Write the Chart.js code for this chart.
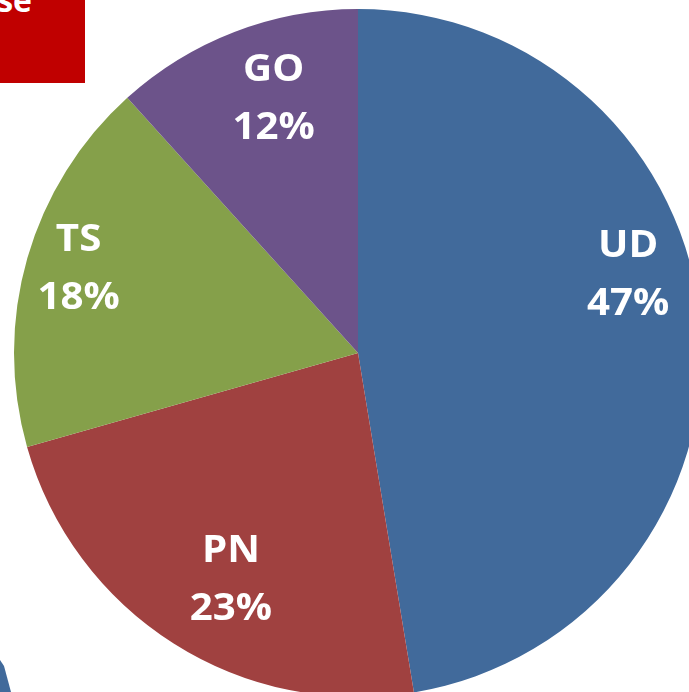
<!DOCTYPE html>
<html>
<head>
<meta charset="utf-8">
<script src="https://cdn.jsdelivr.net/npm/chart.js@4/dist/chart.umd.min.js"></script>
<style>
  html, body { margin: 0; padding: 0; width: 689px; height: 692px; overflow: hidden; background: #ffffff; }
  #wrap { position: absolute; left: 14px; top: 9px; width: 688px; height: 688px; }
  #redbox { position: absolute; left: 0; top: 0; width: 85px; height: 83px; background: #C00000; overflow: hidden; }
  #redbox span { position: absolute; right: 53px; top: -16px; font: bold 32px "Open Sans", "Liberation Sans", sans-serif; color: #ffffff; line-height: 1; }
  #sliver { position: absolute; left: 0; top: 660px; width: 12px; height: 32px; background: #416A9B; clip-path: polygon(0 0, 4px 6px, 11px 32px, 0 32px); }
</style>
</head>
<body>
<div id="redbox"><span>se</span></div>
<div id="sliver"></div>
<div id="wrap"><canvas id="c" width="688" height="688"></canvas></div>
<script>
const categories = ["UD", "PN", "TS", "GO"];
const shares = [47.4, 23.2, 17.7, 11.7];
const percentLabels = ["47%", "23%", "18%", "12%"];
const sliceColors = ["#416A9B", "#A04140", "#85A04A", "#6C538A"];

const labelPlugin = {
  id: 'sliceLabels',
  afterDatasetsDraw(chart, args, opts) {
    const ctx = chart.ctx;
    const meta = chart.getDatasetMeta(0);
    ctx.save();
    ctx.fillStyle = '#ffffff';
    ctx.textAlign = 'center';
    ctx.textBaseline = 'middle';
    ctx.font = 'bold ' + opts.size + 'px "Open Sans", "Liberation Sans", sans-serif';
    meta.data.forEach((arc, i) => {
      const p = arc.getProps(['x', 'y', 'startAngle', 'endAngle', 'outerRadius'], true);
      const mid = (p.startAngle + p.endAngle) / 2 + opts.angleShift[i] * Math.PI / 180;
      const r = p.outerRadius * opts.radius[i];
      const x = p.x + Math.cos(mid) * r;
      const y = p.y + Math.sin(mid) * r;
      [categories[i], percentLabels[i]].forEach((t, k) => {
        ctx.save();
        ctx.translate(x, y + (k === 0 ? -opts.gap : opts.gap));
        ctx.scale(opts.stretch, 1);
        ctx.fillText(t, 0, 0);
        ctx.restore();
      });
    });
    ctx.restore();
  }
};

new Chart(document.getElementById('c'), {
  type: 'pie',
  data: {
    labels: categories,
    datasets: [{
      data: shares,
      backgroundColor: sliceColors,
      borderWidth: 0,
      hoverOffset: 0,
      offset: 0
    }]
  },
  options: {
    responsive: false,
    animation: false,
    events: [],
    layout: { padding: 0 },
    plugins: {
      legend: { display: false },
      tooltip: { enabled: false },
      sliceLabels: {
        size: 38,
        stretch: 1.06,
        gap: 29,
        radius: [0.817, 0.757, 0.848, 0.778],
        angleShift: [-11.3, -3.2, 0.7, 2.7]
      }
    }
  },
  plugins: [labelPlugin]
});
</script>
</body>
</html>
